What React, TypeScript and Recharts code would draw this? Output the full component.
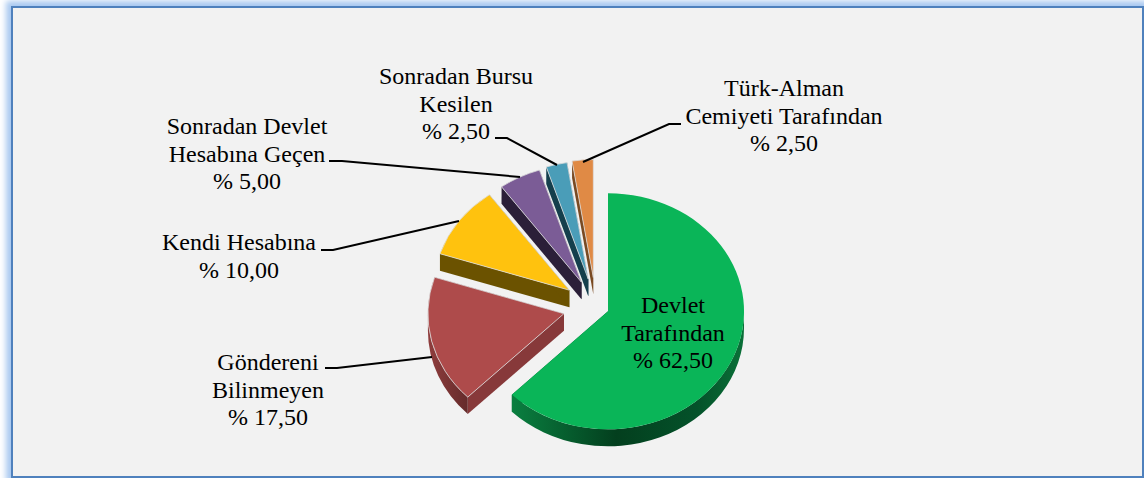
import { Pie, PieChart } from 'recharts';

const CATEGORIES = [
  ['Devlet', 'Tarafından'],
  ['Göndereni', 'Bilinmeyen'],
  ['Kendi Hesabına'],
  ['Sonradan Devlet', 'Hesabına Geçen'],
  ['Sonradan Bursu', 'Kesilen'],
  ['Türk-Alman', 'Cemiyeti Tarafından'],
];
const VALUES = [62.5, 17.5, 10, 5, 2.5, 2.5];

const TOP_COLORS = ['#0ab558', '#ae4b4b', '#ffc20e', '#7b5c96', '#4a9db8', '#e08a45'];
const CUT_COLORS = ['#06572b', '#87393a', '#6b5200', '#2b1f38', '#153f4c', '#7a4a22'];

// how far each slice is pulled out of the pie
const EXPLODE = [13, 33, 33, 32, 33, 34];
// label block: center x, baseline of first line
const LABEL_POS = [
  [673, 313],
  [268, 370],
  [239, 250],
  [247, 134],
  [456, 84],
  [784, 96],
];
const LEADERS = [
  '',
  '325,368 337,368 432,357',
  '321,250 333,250 459,221',
  '329,161 342,161 520,177',
  '495,138 507,138 557,165',
  '681,124 669,124 583,162',
];

const WIDTH = 1144;
const HEIGHT = 478;
const RX = 136;
const TILT = 118 / 136;
const DEPTH = 17;
const LINE_H = 27.5;
const RAD = Math.PI / 180;

const data = VALUES.map((value, i) => ({ name: CATEGORIES[i].join(' '), value, fill: TOP_COLORS[i] }));

function SliceShape(props: any) {
  const { cx, cy, startAngle, endAngle, midAngle, index, fill } = props;
  const mid = midAngle ?? (startAngle + endAngle) / 2;
  const e = EXPLODE[index];
  const ax = cx + e * Math.cos(mid * RAD);
  const ay = cy - e * TILT * Math.sin(mid * RAD);
  const pt = (a: number) => [ax + RX * Math.cos(a * RAD), ay - RX * TILT * Math.sin(a * RAD)];
  const [sx, sy] = pt(startAngle);
  const [ex, ey] = pt(endAngle);
  const large = startAngle - endAngle > 180 ? 1 : 0;
  const top = `M${ax},${ay} L${sx},${sy} A${RX},${RX * TILT} 0 ${large} 1 ${ex},${ey} Z`;

  // rim: only the part of the arc on the lower half is visible
  const rimStart = Math.min(startAngle, 0);
  const rimEnd = Math.max(endAngle, -180);
  let rim = '';
  if (rimStart > rimEnd) {
    const [rx0, ry0] = pt(rimStart);
    const [rx1, ry1] = pt(rimEnd);
    rim =
      `M${rx0},${ry0} A${RX},${RX * TILT} 0 0 1 ${rx1},${ry1} L${rx1},${ry1 + DEPTH} ` +
      `A${RX},${RX * TILT} 0 0 0 ${rx0},${ry0 + DEPTH} Z`;
  }
  const quad = (x: number, y: number) =>
    `M${ax},${ay} L${x},${y} L${x},${y + DEPTH} L${ax},${ay + DEPTH} Z`;

  return (
    <g>
      <path d={quad(sx, sy)} fill={CUT_COLORS[index]} />
      <path d={quad(ex, ey)} fill={CUT_COLORS[index]} />
      {rim && <path d={rim} fill={`url(#rim${index})`} />}
      <path
        d={top}
        fill={fill}
        stroke={index === 0 ? 'none' : '#dcdcdc'}
        strokeWidth={index === 0 ? 0 : 0.8}
      />
    </g>
  );
}

function SliceLabel(props: any) {
  const { index } = props;
  const [x, y] = LABEL_POS[index];
  const percent = `% ${VALUES[index].toFixed(2).replace('.', ',')}`;
  const lines = [...CATEGORIES[index], percent];
  return (
    <g>
      {LEADERS[index] && <polyline points={LEADERS[index]} fill="none" stroke="#000" strokeWidth={2} />}
      <text
        fill="#000"
        fontFamily="'Liberation Serif', serif"
        fontSize={24}
        textAnchor="middle"
        style={{ whiteSpace: 'pre' }}
      >
        {lines.map((line, i) => (
          <tspan key={i} x={x} y={y + i * LINE_H}>
            {line}
          </tspan>
        ))}
      </text>
    </g>
  );
}

export default function App() {
  return (
    <div style={{ position: 'absolute', left: 0, top: 0, width: WIDTH, height: HEIGHT, overflow: 'hidden', background: '#fff' }}>
      <div
        style={{
          position: 'absolute',
          left: 11,
          top: 6,
          width: 1129,
          height: 468,
          border: '2px solid #4f81bd',
          background: '#f2f2f2',
          boxShadow: '0 0 6px 5px #a8c8f0',
        }}
      />
      <div style={{ position: 'absolute', left: 0, top: 0 }}>
        <PieChart width={WIDTH} height={HEIGHT} margin={{ top: 0, right: 0, bottom: 0, left: 0 }}>
          <defs>
            <linearGradient id="rim0" x1="0" y1="0" x2="1" y2="0">
              <stop offset="0" stopColor="#0a7f40" />
              <stop offset="0.45" stopColor="#033f1e" />
              <stop offset="0.8" stopColor="#04522a" />
              <stop offset="1" stopColor="#0a7038" />
            </linearGradient>
            <linearGradient id="rim1" x1="0" y1="0" x2="1" y2="0">
              <stop offset="0" stopColor="#8f3d3d" />
              <stop offset="1" stopColor="#652b2b" />
            </linearGradient>
          </defs>
          <Pie
            data={data}
            dataKey="value"
            cx={596}
            cy={307}
            outerRadius={RX}
            startAngle={90}
            endAngle={-270}
            paddingAngle={0}
            stroke="none"
            isAnimationActive={false}
            labelLine={false}
            label={SliceLabel}
            shape={SliceShape}
          />
        </PieChart>
      </div>
    </div>
  );
}
